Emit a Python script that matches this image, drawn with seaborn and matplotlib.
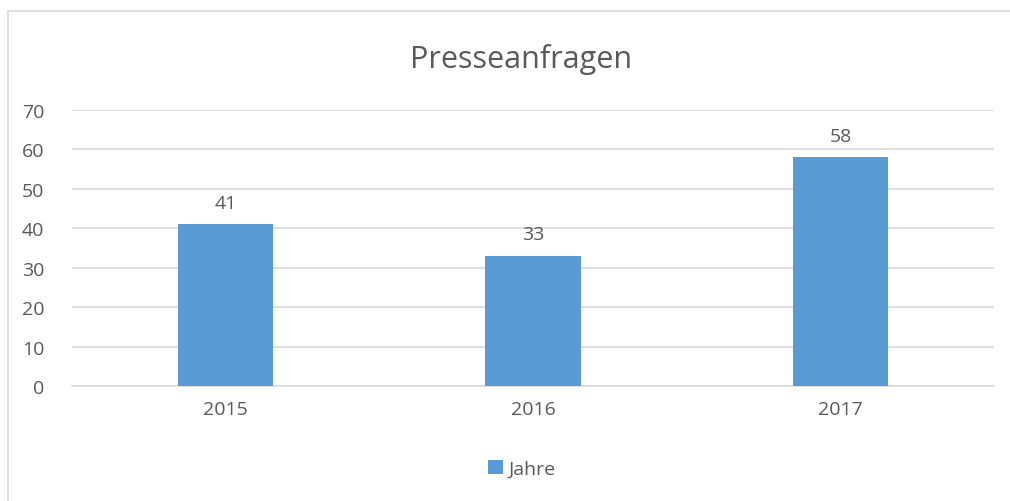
import pandas as pd
import matplotlib.pyplot as plt
import seaborn as sns
from matplotlib.patches import Rectangle, Patch

years = ['2015', '2016', '2017']
anfragen = [41, 33, 58]
series_name = 'Jahre'

bar_color = '#5B9BD5'
text_color = '#595959'
grid_color = '#D9D9D9'

sns.set_style("white")
plt.rcParams['font.family'] = ['Open Sans', 'DejaVu Sans']

df = pd.DataFrame({'Jahr': years, 'Anfragen': anfragen})

fig = plt.figure(figsize=(10.1, 5.02), dpi=100)
ax = fig.add_axes([0.0713, 0.229, 0.913, 0.55])

sns.barplot(data=df, x='Jahr', y='Anfragen', color=bar_color, width=0.31,
            saturation=1, linewidth=0, ax=ax, zorder=3)

ax.set_ylim(0, 70)
ax.set_yticks(range(0, 71, 10))
ax.set_xlim(-0.5, 2.5)
ax.grid(axis='y', color=grid_color, linewidth=1.2, zorder=0)
ax.set_axisbelow(True)
for s in ['top', 'right', 'left']:
    ax.spines[s].set_visible(False)
ax.spines['bottom'].set_color(grid_color)
ax.spines['bottom'].set_linewidth(1.2)
ax.tick_params(axis='both', length=0, labelsize=14, colors=text_color)
ax.tick_params(axis='y', pad=20)
ax.tick_params(axis='x', pad=10)
ax.set_xlabel('')
ax.set_ylabel('')

ax.bar_label(ax.containers[0], fontsize=14, color=text_color, padding=9)

fig.text(0.5155, 0.882, 'Presseanfragen', ha='center', va='center',
         fontsize=22, color=text_color)

handle = Patch(facecolor=bar_color, edgecolor='none')
fig.legend([handle], [series_name], loc='center', bbox_to_anchor=(0.517, 0.064),
           frameon=False, fontsize=14, labelcolor=text_color,
           handlelength=0.75, handleheight=0.75, handletextpad=0.3)

# outer chart border (only left/top visible in the crop)
fig.patches.append(Rectangle((8 / 1010, -0.1), 1.2, 1 - 12 / 502 + 0.1,
                             transform=fig.transFigure, fill=False,
                             edgecolor='#D9D9D9', linewidth=1.2))

plt.savefig('out.png', dpi=100)
